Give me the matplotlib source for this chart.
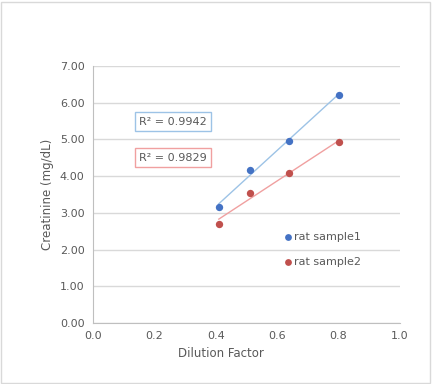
import matplotlib
matplotlib.use('Agg')
import matplotlib.pyplot as plt
import numpy as np
from matplotlib.patches import Rectangle

dilution = [0.41, 0.51, 0.64, 0.80]
sample1 = [3.15, 4.17, 4.96, 6.22]
sample2 = [2.70, 3.55, 4.09, 4.92]
r2_labels = ['R² = 0.9942', 'R² = 0.9829']
names = ['rat sample1', 'rat sample2']

blue = '#4472C4'
red = '#C0504D'
blue_light = '#9DC3E6'
red_light = '#F0A0A0'
grey = '#595959'

plt.rcParams['font.family'] = 'DejaVu Sans'

fig = plt.figure(figsize=(4.32, 3.84), dpi=100)
fig.patches.append(Rectangle((0.002, 0.002), 0.994, 0.994, transform=fig.transFigure,
                             fill=False, edgecolor='#D9D9D9', linewidth=1))
ax = fig.add_axes([0.215, 0.159, 0.711, 0.669])

for ys, c, lc in [(sample1, blue, blue_light), (sample2, red, red_light)]:
    k, b = np.polyfit(dilution, ys, 1)
    xs = np.array([min(dilution), max(dilution)])
    ax.plot(xs, k * xs + b, color=lc, linewidth=1, zorder=2)
    ax.scatter(dilution, ys, color=c, s=28, zorder=3, linewidths=0)

ax.set_xlim(0, 1.0)
ax.set_ylim(0, 7)
ax.set_xticks(np.arange(0, 1.01, 0.2))
ax.set_yticks(np.arange(0, 7.01, 1))
ax.set_xticklabels([f'{v:.1f}' for v in np.arange(0, 1.01, 0.2)])
ax.set_yticklabels([f'{v:.2f}' for v in np.arange(0, 7.01, 1)])
ax.grid(axis='y', color='#D9D9D9', linewidth=1)
ax.set_axisbelow(True)
for s in ['top', 'right']:
    ax.spines[s].set_visible(False)
for s in ['left', 'bottom']:
    ax.spines[s].set_color('#BFBFBF')
ax.tick_params(labelcolor=grey, labelsize=8, length=0, pad=6)
ax.set_xlabel('Dilution Factor', color=grey, fontsize=8.5)
ax.set_ylabel('Creatinine (mg/dL)', color=grey, fontsize=8.5)
ax.xaxis.set_label_coords(0.417, -0.095)

ax.text(0.15, 5.48, r2_labels[0], fontsize=8, color=grey, va='center',
        bbox=dict(boxstyle='square,pad=0.4', fc='white', ec=blue_light, lw=1))
ax.text(0.15, 4.5, r2_labels[1], fontsize=8, color=grey, va='center',
        bbox=dict(boxstyle='square,pad=0.4', fc='white', ec=red_light, lw=1))

for i, (n, c) in enumerate(zip(names, [blue, red])):
    y = 2.35 - i * 0.68
    ax.scatter([0.635], [y], color=c, s=24, linewidths=0, zorder=4)
    ax.text(0.655, y, n, fontsize=8, color=grey, va='center')

fig.savefig('out.png', dpi=100)
